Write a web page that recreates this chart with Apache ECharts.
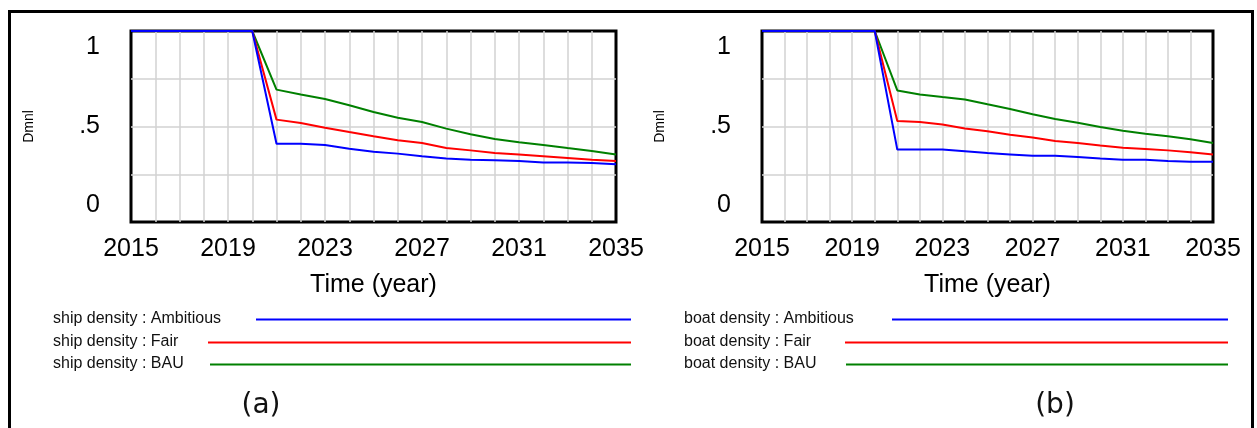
<!DOCTYPE html>
<html>
<head>
<meta charset="utf-8">
<script src="https://cdn.jsdelivr.net/npm/echarts@6/dist/echarts.min.js"></script>
<style>
html,body{margin:0;padding:0;background:#fff;}
#chart{width:1257px;height:428px;}
</style>
</head>
<body>
<div id="chart"></div>
<script>
// ---------- data ----------
const years = [2015,2016,2017,2018,2019,2020,2021,2022,2023,2024,2025,2026,2027,2028,2029,2030,2031,2032,2033,2034,2035];
const xTickLabels = ['2015','2019','2023','2027','2031','2035'];
const yTickValues = [0, 0.5, 1];
const yTickLabels = ['0', '.5', '1'];
const scenarios = ['Ambitious', 'Fair', 'BAU'];
const variables = ['ship density', 'boat density'];
const panelTags = ['(a)', '(b)'];

// ship density (panel a)
const shipAmbitious = [1,1,1,1,1,1,0.410,0.410,0.403,0.384,0.368,0.358,0.344,0.333,0.326,0.323,0.319,0.312,0.312,0.309,0.302];
const shipFair      = [1,1,1,1,1,1,0.536,0.518,0.494,0.471,0.449,0.428,0.414,0.387,0.375,0.361,0.353,0.344,0.335,0.326,0.319];
const shipBAU       = [1,1,1,1,1,1,0.693,0.668,0.644,0.611,0.576,0.546,0.524,0.489,0.459,0.435,0.417,0.403,0.387,0.372,0.353];
// boat density (panel b)
const boatAmbitious = [1,1,1,1,1,1,0.379,0.379,0.379,0.370,0.361,0.354,0.347,0.347,0.340,0.332,0.326,0.326,0.319,0.316,0.316];
const boatFair      = [1,1,1,1,1,1,0.529,0.524,0.510,0.489,0.475,0.457,0.442,0.424,0.414,0.400,0.389,0.382,0.375,0.365,0.354];
const boatBAU       = [1,1,1,1,1,1,0.689,0.668,0.654,0.641,0.616,0.592,0.564,0.539,0.520,0.497,0.478,0.462,0.449,0.433,0.414];

const colors = ['#0000ff', '#ff0000', '#008000'];
const panelData = [[shipAmbitious, shipFair, shipBAU], [boatAmbitious, boatFair, boatBAU]];

// ---------- layout ----------
const grids = [
  {left: 131, top: 31, width: 485, height: 191},
  {left: 762, top: 31, width: 451, height: 191}
];
const legendTextX = [53, 684];
const legendLineStart = [[256, 208, 210], [892, 845, 846]];
const legendLineEnd = [631, 1228];
const legendY = [319, 342, 364];
const tagPos = [[261, 406], [1055, 406]];

const FONT = "'Liberation Sans', Arial, sans-serif";

function xAxisFor(i) {
  return {
    type: 'value', gridIndex: i, min: 2015, max: 2035, interval: 1,
    name: 'Time (year)', nameLocation: 'middle', nameGap: 51,
    nameTextStyle: {fontFamily: FONT, fontSize: 25, color: '#000'},
    axisLine: {show: false}, axisTick: {show: false},
    axisLabel: {
      margin: 15, fontFamily: FONT, fontSize: 25, color: '#000',
      formatter: v => { const s = String(v); return xTickLabels.indexOf(s) >= 0 ? s : ''; }
    },
    splitLine: {show: true, showMinLine: false, showMaxLine: false, lineStyle: {color: '#d2d2d2', width: 1.5}}
  };
}
function yAxisFor(i) {
  return {
    type: 'value', gridIndex: i, min: 0, max: 1, interval: 0.25,
    name: 'Dmnl', nameLocation: 'middle', nameRotate: 90, nameGap: 95,
    nameTextStyle: {fontFamily: FONT, fontSize: 14, color: '#000'},
    axisLine: {show: false}, axisTick: {show: false},
    axisLabel: {
      margin: 31, fontFamily: FONT, fontSize: 25, color: '#000',
      formatter: v => {
        const k = yTickValues.indexOf(v);
        if (k < 0) return '';
        if (v === 1) return '{t|' + yTickLabels[k] + '}';
        if (v === 0) return '{b|' + yTickLabels[k] + '}';
        return yTickLabels[k];
      },
      rich: {
        t: {fontFamily: FONT, fontSize: 25, color: '#000', padding: [32, 0, 0, 0]},
        b: {fontFamily: FONT, fontSize: 25, color: '#000', padding: [0, 0, 34, 0]}
      }
    },
    splitLine: {show: true, showMinLine: false, showMaxLine: false, lineStyle: {color: '#d2d2d2', width: 1.5}}
  };
}

const series = [];
for (let p = 0; p < 2; p++) {
  for (let s = 2; s >= 0; s--) {
    series.push({
      type: 'line', name: variables[p] + ' : ' + scenarios[s],
      xAxisIndex: p, yAxisIndex: p, clip: false,
      data: years.map((y, k) => [y, panelData[p][s][k]]),
      symbol: 'none', silent: true,
      lineStyle: {color: colors[s], width: 2},
      itemStyle: {color: colors[s]}
    });
  }
}

const graphic = [{
  type: 'rect', shape: {x: 9.5, y: 11.5, width: 1243, height: 440},
  style: {fill: 'none', stroke: '#000', lineWidth: 3}, z: 100
}];
for (let p = 0; p < 2; p++) {
  for (let s = 0; s < 3; s++) {
    graphic.push({
      type: 'text', x: legendTextX[p], y: legendY[s],
      style: {text: variables[p] + ' : ' + scenarios[s], fontFamily: FONT, fontSize: 16,
              fill: '#111', verticalAlign: 'middle', align: 'left'}
    });
    graphic.push({
      type: 'line',
      shape: {x1: legendLineStart[p][s], y1: legendY[s] + 0.5, x2: legendLineEnd[p], y2: legendY[s] + 0.5},
      style: {stroke: colors[s], lineWidth: 2}
    });
  }
  graphic.push({
    type: 'text', x: tagPos[p][0], y: tagPos[p][1],
    style: {text: panelTags[p], fontFamily: "'DejaVu Sans', sans-serif", fontSize: 28,
            fill: '#111', verticalAlign: 'middle', align: 'center'}
  });
}

const chart = echarts.init(document.getElementById('chart'), null, {renderer: 'canvas'});
chart.setOption({
  animation: false,
  backgroundColor: '#fff',
  grid: grids.map(g => Object.assign({show: true, borderColor: '#000', borderWidth: 3, backgroundColor: 'transparent'}, g)),
  xAxis: [xAxisFor(0), xAxisFor(1)],
  yAxis: [yAxisFor(0), yAxisFor(1)],
  series: series,
  graphic: graphic
});
</script>
</body>
</html>
